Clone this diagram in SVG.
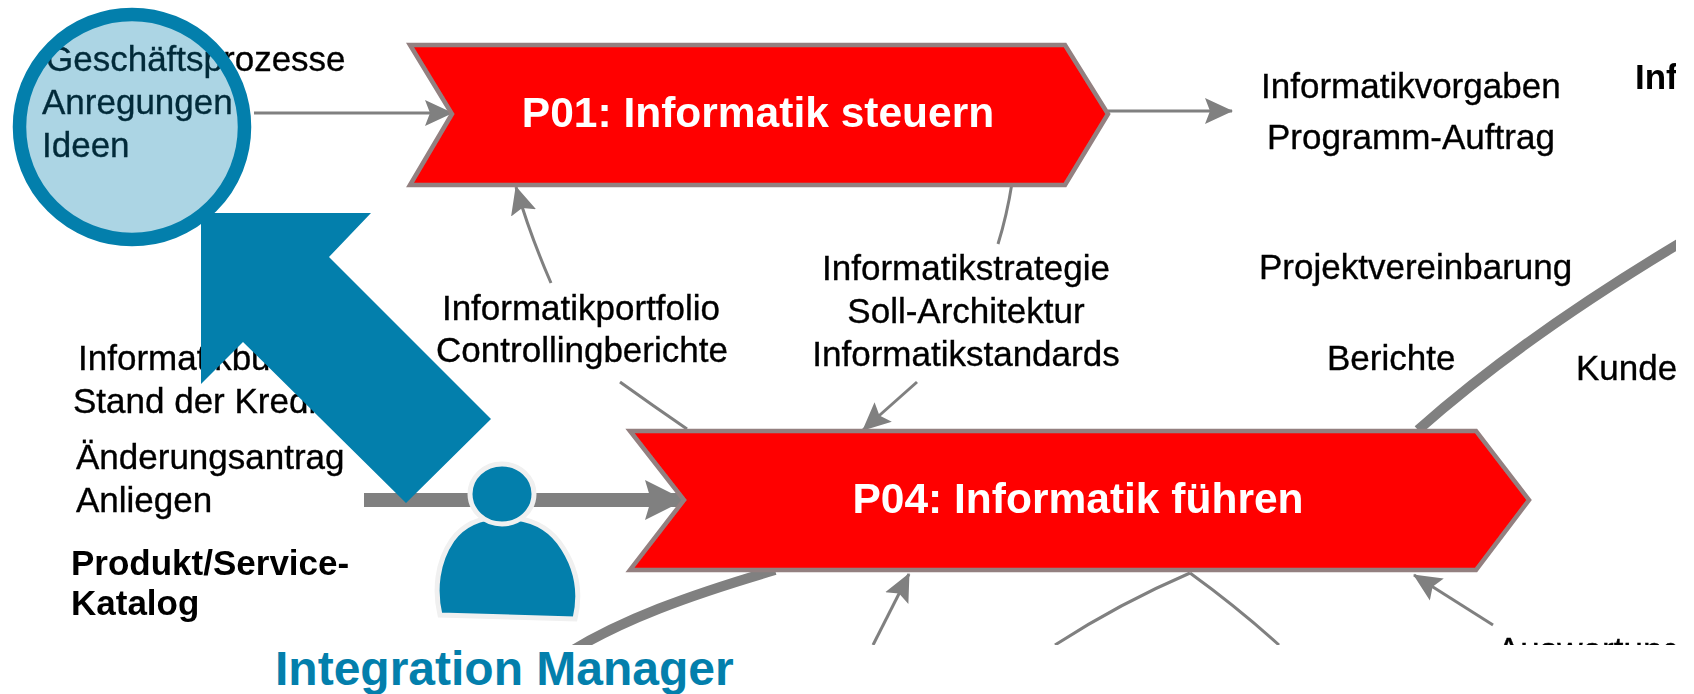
<svg xmlns="http://www.w3.org/2000/svg" width="1694" height="694" viewBox="0 0 1694 694">
<style>
.t{font-family:"Liberation Sans",Arial,sans-serif;font-size:35px;fill:#000;stroke:#000;stroke-width:0.35}
.b{font-weight:bold;stroke-width:0}
.w{font-family:"Liberation Sans",Arial,sans-serif;font-size:42.5px;font-weight:bold;fill:#fff;text-anchor:middle}
.c{text-anchor:middle}
.l{fill:none;stroke:#808080;stroke-width:3}
.h{fill:none;stroke:#808080;stroke-width:10}
.p{fill:#ff0000;stroke:#938080;stroke-width:4.5}
.a{fill:#037fac}
</style>
<defs>
<clipPath id="crop"><rect x="0" y="0" width="1676" height="645"/></clipPath>
<filter id="soft" x="0" y="0" width="1" height="1" filterUnits="objectBoundingBox"><feGaussianBlur stdDeviation="0.5"/></filter>
<marker id="m" markerUnits="userSpaceOnUse" markerWidth="30" markerHeight="30" refX="27" refY="14" orient="auto" viewBox="0 0 30 30"><path d="M0,1 L28,14 L0,27 L5,14 Z" fill="#808080"/></marker>
<marker id="M" markerUnits="userSpaceOnUse" markerWidth="44" markerHeight="44" refX="39" refY="21" orient="auto" viewBox="0 0 44 44"><path d="M0,1 L40,21 L0,41 L6,21 Z" fill="#808080"/></marker>
</defs>
<g clip-path="url(#crop)"><g filter="url(#soft)">
<rect width="1694" height="694" fill="#fff"/>
<g id="connectors">
<path class="l" d="M254,113 L452,113" marker-end="url(#m)"/>
<path class="l" d="M1108,111 L1232,111" marker-end="url(#m)"/>
<path class="l" d="M551,283 Q530,235 516,187" marker-end="url(#m)"/>
<path class="l" d="M620,382 Q652,405 687,429"/>
<path class="l" d="M1012,183 Q1007,215 998,244"/>
<path class="l" d="M917,382 L863,430" marker-end="url(#m)"/>
<path class="l" d="M873,645 L909,574" marker-end="url(#m)"/>
<path class="l" d="M1055,645 Q1120,603 1190,573"/>
<path class="l" d="M1190,573 Q1237,607 1279,645"/>
<path class="l" d="M1493,625 L1414,575" marker-end="url(#m)"/>
<path d="M364,500 L684,500" fill="none" stroke="#808080" stroke-width="14" marker-end="url(#M)"/>
<path class="h" d="M1418,430 C1480,375 1560,315 1680,243"/>
<path class="h" d="M565,655 C620,620 690,595 775,570"/>
</g>
<g id="p01"><polygon class="p" points="410,45 1065,45 1108,114 1065,185 410,185 452,114"/><text class="w" x="758" y="127">P01: Informatik steuern</text></g>
<g id="p04"><polygon class="p" points="630,431 1476,431 1529,500 1476,570 630,570 684,500"/><text class="w" x="1078" y="513">P04: Informatik führen</text></g>
<g id="labels">
<text class="t" x="46" y="71">Geschäftsprozesse</text>
<text class="t" x="42" y="114">Anregungen</text>
<text class="t" x="42" y="157">Ideen</text>
<text class="t" x="1261" y="98">Informatikvorgaben</text>
<text class="t" x="1267" y="149">Programm-Auftrag</text>
<text class="t b" x="1635" y="89">Inf</text>
<text class="t" x="1259" y="279">Projektvereinbarung</text>
<text class="t" x="1327" y="370">Berichte</text>
<text class="t" x="1576" y="380">Kunde</text>
<text class="t c" x="966" y="280">Informatikstrategie</text>
<text class="t c" x="966" y="323">Soll-Architektur</text>
<text class="t c" x="966" y="366">Informatikstandards</text>
<text class="t c" x="581" y="320">Informatikportfolio</text>
<text class="t c" x="582" y="362">Controllingberichte</text>
<text class="t" x="78" y="370">Informatikbudget</text>
<text class="t" x="73" y="413">Stand der Kredite</text>
<text class="t" x="76" y="469">Änderungsantrag</text>
<text class="t" x="76" y="512">Anliegen</text>
<text class="t b" x="71" y="575">Produkt/Service-</text>
<text class="t b" x="71" y="615">Katalog</text>
<text class="t" x="1497" y="662">Auswertungen</text>
</g>
</g></g>
<g id="focus-arrow"><polygon class="a" points="201,213 371,213 329,257 491,419 406,503 243,342 201,384"/></g>
<g id="focus-circle"><ellipse cx="132" cy="127" rx="112.5" ry="112.5" fill="#037fac" fill-opacity="0.33" stroke="#037fac" stroke-width="13.5"/></g>
<g id="integration-manager">
<path class="a" d="M440,615 C434,590 437,562 452,540 C465,522 485,517 502,517 C522,517 544,522 559,542 C576,565 582,590 575,619 Z" stroke="#f0f0f0" stroke-width="5"/>
<ellipse class="a" cx="502" cy="494" rx="32" ry="30" stroke="#f0f0f0" stroke-width="5"/>
<text x="275" y="685" font-family="'Liberation Sans',Arial,sans-serif" font-size="48" font-weight="bold" fill="#037fac">Integration Manager</text>
</g>
</svg>
